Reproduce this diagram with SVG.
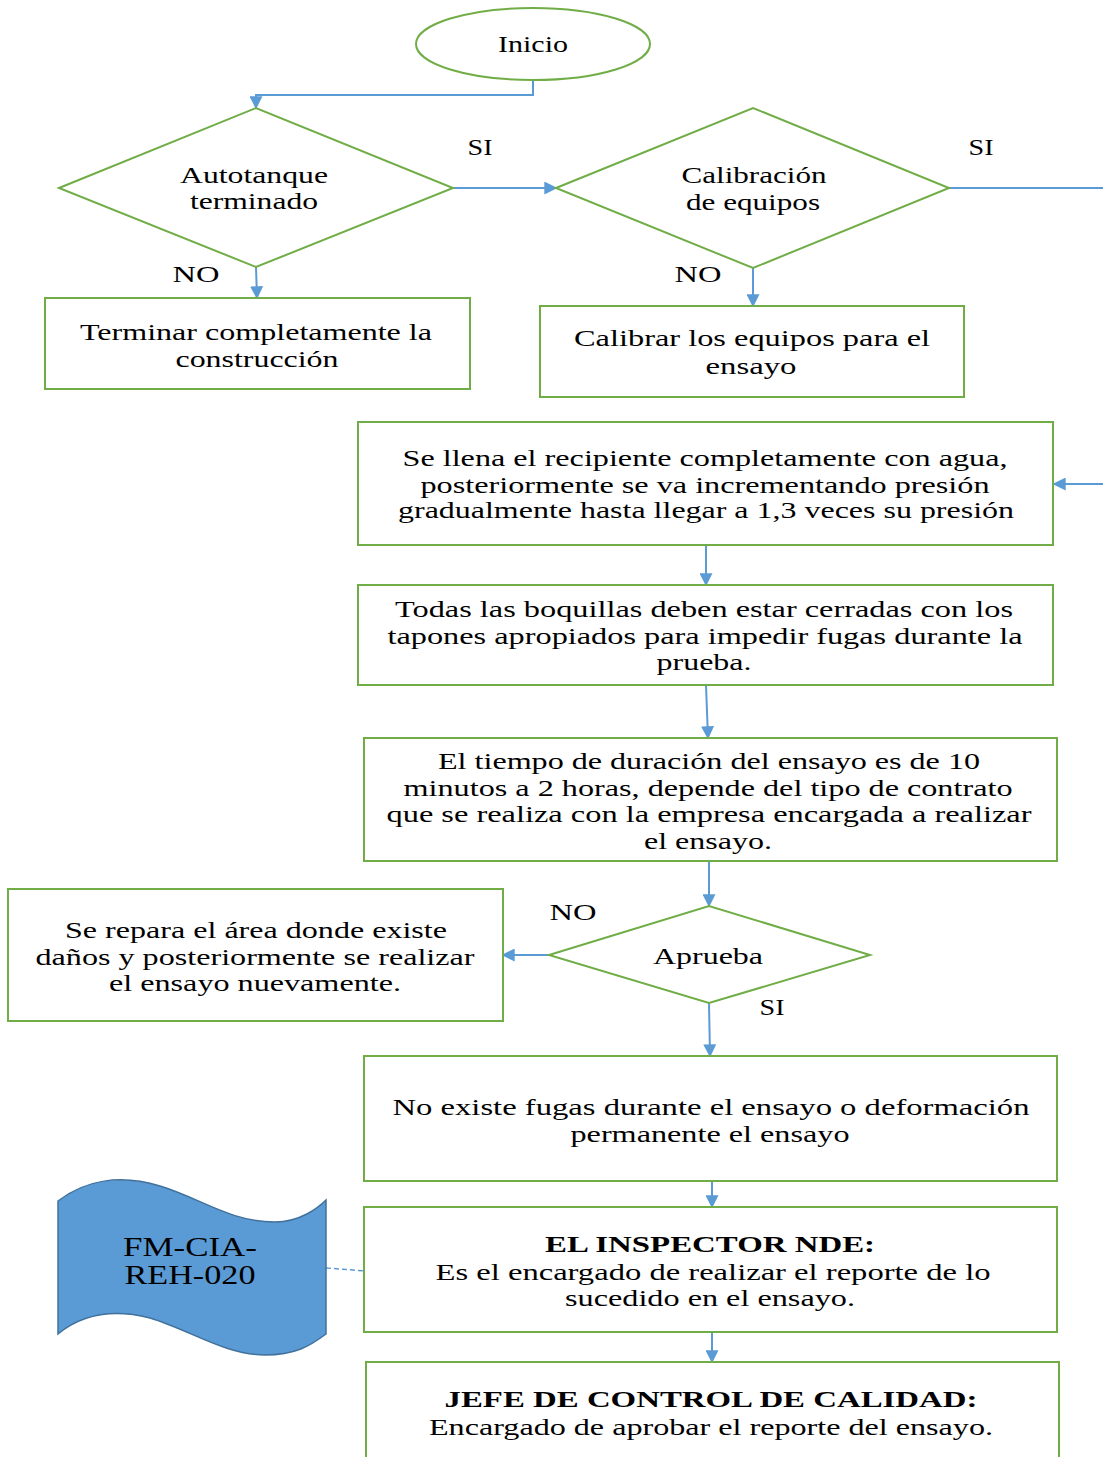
<svg xmlns="http://www.w3.org/2000/svg" width="1103" height="1457" viewBox="0 0 1103 1457">
<style>
.n{fill:#fff;stroke:#70AD47;stroke-width:2}
.c{fill:none;stroke:#5B9BD5;stroke-width:2}
text{font-family:"Liberation Serif","Times New Roman",serif;font-size:24px;fill:#000;text-anchor:middle}
.b{font-weight:bold}
.lbl{font-size:24px}
.doc{font-size:27px}
</style>
<defs>
<marker id="ah" viewBox="0 0 10 10" refX="9" refY="5" markerWidth="6.5" markerHeight="6.5" orient="auto" markerUnits="strokeWidth">
<path d="M0,0 L10,5 L0,10 z" fill="#5B9BD5"/>
</marker>
</defs>
<rect width="1103" height="1457" fill="#fff"/>
<g id="connectors">
<path class="c" d="M533,80 V95 H256 V108" marker-end="url(#ah)"/>
<path class="c" d="M453,188 H556" marker-end="url(#ah)"/>
<path class="c" d="M256,267 L257,298" marker-end="url(#ah)"/>
<path class="c" d="M949,188 H1103"/>
<path class="c" d="M753,268 V306" marker-end="url(#ah)"/>
<path class="c" d="M1103,484 H1054" marker-end="url(#ah)"/>
<path class="c" d="M706,545 V585" marker-end="url(#ah)"/>
<path class="c" d="M706,685 L708,738" marker-end="url(#ah)"/>
<path class="c" d="M709,861 V906" marker-end="url(#ah)"/>
<path class="c" d="M549,955 H503" marker-end="url(#ah)"/>
<path class="c" d="M709,1003 L710,1056" marker-end="url(#ah)"/>
<path class="c" d="M712,1181 V1207" marker-end="url(#ah)"/>
<path class="c" d="M712,1332 V1362" marker-end="url(#ah)"/>
<path d="M326,1268 L366,1271" fill="none" stroke="#5B9BD5" stroke-width="1.5" stroke-dasharray="5,3"/>
<text class="lbl" x="480" y="155" textLength="25" lengthAdjust="spacingAndGlyphs">SI</text>
<text class="lbl" x="981" y="155" textLength="25" lengthAdjust="spacingAndGlyphs">SI</text>
<text class="lbl" x="196" y="282" textLength="47" lengthAdjust="spacingAndGlyphs">NO</text>
<text class="lbl" x="698" y="282" textLength="47" lengthAdjust="spacingAndGlyphs">NO</text>
<text class="lbl" x="573" y="920" textLength="47" lengthAdjust="spacingAndGlyphs">NO</text>
<text class="lbl" x="772" y="1015" textLength="25" lengthAdjust="spacingAndGlyphs">SI</text>
</g>
<g id="inicio">
<ellipse class="n" cx="533" cy="44" rx="117" ry="36"/>
<text x="533" y="52" textLength="70" lengthAdjust="spacingAndGlyphs">Inicio</text>
</g>
<g id="autotanque">
<path class="n" d="M59,188 L256,108 L453,188 L256,267 Z"/>
<text x="254" y="183" textLength="148" lengthAdjust="spacingAndGlyphs">Autotanque</text>
<text x="254" y="209" textLength="128" lengthAdjust="spacingAndGlyphs">terminado</text>
</g>
<g id="calibracion">
<path class="n" d="M556,188 L753,108 L949,188 L753,268 Z"/>
<text x="754" y="183" textLength="145" lengthAdjust="spacingAndGlyphs">Calibración</text>
<text x="753" y="210" textLength="134" lengthAdjust="spacingAndGlyphs">de equipos</text>
</g>
<g id="terminar">
<rect class="n" x="45" y="298" width="425" height="91"/>
<text x="256" y="340" textLength="352" lengthAdjust="spacingAndGlyphs">Terminar completamente la</text>
<text x="257" y="367" textLength="163" lengthAdjust="spacingAndGlyphs">construcción</text>
</g>
<g id="calibrar">
<rect class="n" x="540" y="306" width="424" height="91"/>
<text x="752" y="346" textLength="356" lengthAdjust="spacingAndGlyphs">Calibrar los equipos  para el</text>
<text x="751" y="374" textLength="91" lengthAdjust="spacingAndGlyphs">ensayo</text>
</g>
<g id="llenado">
<rect class="n" x="358" y="422" width="695" height="123"/>
<text x="705" y="466" textLength="605" lengthAdjust="spacingAndGlyphs">Se llena el recipiente completamente con agua,</text>
<text x="705" y="493" textLength="569" lengthAdjust="spacingAndGlyphs">posteriormente se va incrementando presión</text>
<text x="706" y="518" textLength="616" lengthAdjust="spacingAndGlyphs">gradualmente hasta llegar a 1,3 veces su presión</text>
</g>
<g id="boquillas">
<rect class="n" x="358" y="585" width="695" height="100"/>
<text x="704" y="617" textLength="618" lengthAdjust="spacingAndGlyphs">Todas las boquillas  deben estar cerradas con los</text>
<text x="705" y="644" textLength="635" lengthAdjust="spacingAndGlyphs">tapones apropiados para impedir  fugas durante la</text>
<text x="704" y="670" textLength="95" lengthAdjust="spacingAndGlyphs">prueba.</text>
</g>
<g id="tiempo">
<rect class="n" x="364" y="738" width="693" height="123"/>
<text x="709" y="769" textLength="542" lengthAdjust="spacingAndGlyphs">El tiempo de duración del ensayo es de 10</text>
<text x="708" y="796" textLength="609" lengthAdjust="spacingAndGlyphs">minutos  a 2 horas, depende del tipo de contrato</text>
<text x="709" y="822" textLength="645" lengthAdjust="spacingAndGlyphs">que se realiza con la empresa encargada a realizar</text>
<text x="708" y="849" textLength="128" lengthAdjust="spacingAndGlyphs">el ensayo.</text>
</g>
<g id="aprueba">
<path class="n" d="M549,955 L709,906 L870,955 L709,1003 Z"/>
<text x="708" y="964" textLength="110" lengthAdjust="spacingAndGlyphs">Aprueba</text>
</g>
<g id="repara">
<rect class="n" x="8" y="889" width="495" height="132"/>
<text x="256" y="938" textLength="382" lengthAdjust="spacingAndGlyphs">Se repara el área donde existe</text>
<text x="255" y="965" textLength="439" lengthAdjust="spacingAndGlyphs">daños y posteriormente se realizar</text>
<text x="255" y="991" textLength="292" lengthAdjust="spacingAndGlyphs">el ensayo nuevamente.</text>
</g>
<g id="nofugas">
<rect class="n" x="364" y="1056" width="693" height="125"/>
<text x="711" y="1115" textLength="637" lengthAdjust="spacingAndGlyphs">No existe fugas durante el ensayo  o deformación</text>
<text x="710" y="1142" textLength="279" lengthAdjust="spacingAndGlyphs">permanente el ensayo</text>
</g>
<g id="inspector">
<rect class="n" x="364" y="1207" width="693" height="125"/>
<text class="b" x="710" y="1252" textLength="330" lengthAdjust="spacingAndGlyphs">EL INSPECTOR NDE:</text>
<text x="713" y="1280" textLength="555" lengthAdjust="spacingAndGlyphs">Es el encargado de realizar el  reporte de lo</text>
<text x="710" y="1306" textLength="290" lengthAdjust="spacingAndGlyphs">sucedido en el ensayo.</text>
</g>
<g id="jefe">
<rect class="n" x="366" y="1362" width="693" height="110"/>
<text class="b" x="711" y="1407" textLength="533" lengthAdjust="spacingAndGlyphs">JEFE DE CONTROL DE CALIDAD:</text>
<text x="711" y="1435" textLength="564" lengthAdjust="spacingAndGlyphs">Encargado de aprobar el reporte del ensayo.</text>
</g>
<g id="documento">
<path d="M58,1201 C85,1180 120,1174 160,1186 C200,1198 230,1222 275,1222 C300,1222 318,1208 326,1200 L326,1334 C310,1346 295,1355 265,1355 C225,1355 190,1330 150,1318 C110,1308 80,1316 58,1334 Z" fill="#5B9BD5" stroke="#41719C" stroke-width="1.5"/>
<text class="doc" x="190" y="1256" textLength="134" lengthAdjust="spacingAndGlyphs">FM-CIA-</text>
<text class="doc" x="190" y="1284" textLength="131" lengthAdjust="spacingAndGlyphs">REH-020</text>
</g>
</svg>
